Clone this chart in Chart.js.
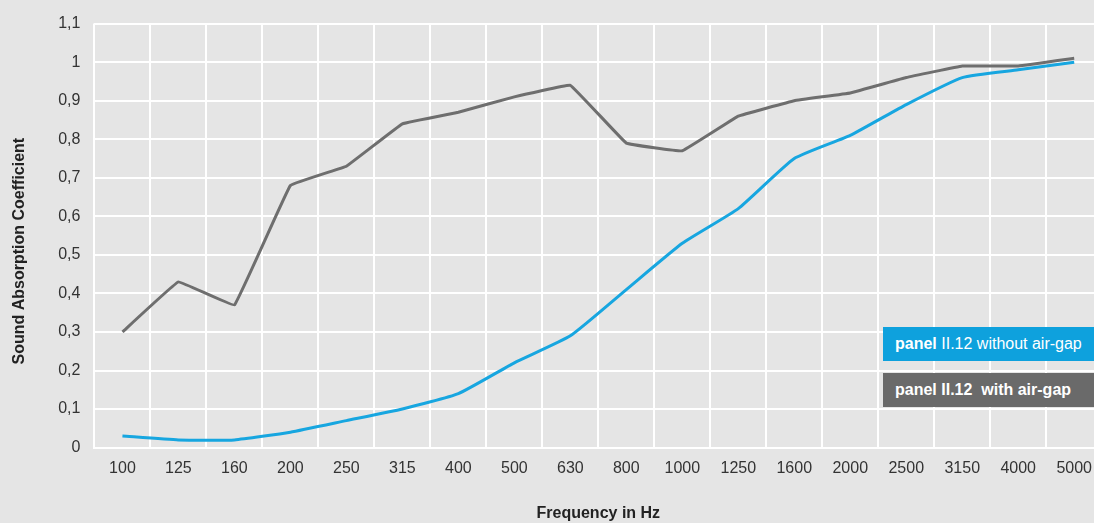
<!DOCTYPE html>
<html>
<head>
<meta charset="utf-8">
<title>Sound Absorption Coefficient</title>
<script src="https://cdn.jsdelivr.net/npm/chart.js@4"></script>
<style>
    html, body { margin: 0; padding: 0; background: #e5e5e5; overflow: hidden; }
    /* canvas is a bit wider than the window: the plot runs past the right edge */
    #wrap { position: relative; width: 1094px; height: 523px; overflow: hidden; }
    .legend-box {
        position: absolute; left: 883px; width: 220px; height: 34px;
        font-family: "Liberation Sans", Arial, sans-serif; font-size: 16px;
        color: #fff; line-height: 34px; padding-left: 12px; box-sizing: border-box;
    }
    .legend-box b { font-weight: bold; }
</style>
</head>
<body>
<div id="wrap">
    <canvas id="absorption-chart" width="1103" height="523"></canvas>
    <div class="legend-box" style="top:327px;background:#0ea1dd;"><b>panel</b> II.12 without air-gap</div>
    <div class="legend-box" style="top:373px;background:#6a6a6a;"><b>panel II.12</b>&nbsp; <b>with air-gap</b></div>
</div>
<script>
// Frequencies (Hz)
var frequencies = ['100', '125', '160', '200', '250', '315', '400', '500', '630',
    '800', '1000', '1250', '1600', '2000', '2500', '3150', '4000', '5000'];

// panel II.12 without air-gap
var withoutAirGap = [0.03, 0.02, 0.02, 0.04, 0.07, 0.10, 0.14, 0.22, 0.29,
    0.41, 0.53, 0.62, 0.75, 0.81, 0.89, 0.96, 0.98, 1.00];

// panel II.12 with air-gap
var withAirGap = [0.30, 0.43, 0.37, 0.68, 0.73, 0.84, 0.87, 0.91, 0.94,
    0.79, 0.77, 0.86, 0.90, 0.92, 0.96, 0.99, 0.99, 1.01];

(function() {
    'use strict';

    var fontFamily = '"Liberation Sans", Arial, sans-serif';
    var ctx = document.getElementById('absorption-chart').getContext('2d');

    new Chart(ctx, {
        type: 'line',
        data: {
            labels: frequencies,
            datasets: [{
                label: 'panel II.12 with air-gap',
                data: withAirGap,
                borderColor: '#6e6e6e',
                borderWidth: 3,
                pointRadius: 0,
                tension: 0.05,
                fill: false
            }, {
                label: 'panel II.12 without air-gap',
                data: withoutAirGap,
                borderColor: '#17a6e0',
                borderWidth: 3,
                pointRadius: 0,
                tension: 0.15,
                fill: false
            }]
        },
        options: {
            responsive: false,
            animation: false,
            layout: {
                padding: { top: 18, right: 0, left: 10, bottom: 0 }
            },
            plugins: {
                legend: { display: false },
                tooltip: { enabled: false }
            },
            scales: {
                x: {
                    offset: true,
                    grid: { color: '#ffffff', lineWidth: 2, offset: true, drawTicks: false },
                    border: { color: '#ffffff', width: 2 },
                    ticks: {
                        color: '#333333',
                        padding: 11,
                        maxRotation: 0,
                        autoSkip: false,
                        font: { family: fontFamily, size: 16 }
                    },
                    title: {
                        display: true,
                        text: 'Frequency in Hz',
                        color: '#222222',
                        padding: { top: 15, bottom: 0 },
                        font: { family: fontFamily, size: 16, weight: 'bold' }
                    }
                },
                y: {
                    min: 0,
                    max: 1.1,
                    grid: { color: '#ffffff', lineWidth: 2, drawTicks: false },
                    border: { display: false },
                    ticks: {
                        stepSize: 0.1,
                        color: '#333333',
                        padding: 14,
                        font: { family: fontFamily, size: 16 },
                        callback: function(value) {
                            var v = Math.round(value * 10) / 10;
                            return String(v).replace('.', ',');
                        }
                    },
                    title: {
                        display: true,
                        // trailing spaces push the title a little below the middle, like the source
                        text: 'Sound Absorption Coefficient       ',
                        color: '#222222',
                        padding: { top: 0, bottom: 15 },
                        font: { family: fontFamily, size: 16, weight: 'bold' }
                    }
                }
            }
        }
    });
})();
</script>
</body>
</html>
